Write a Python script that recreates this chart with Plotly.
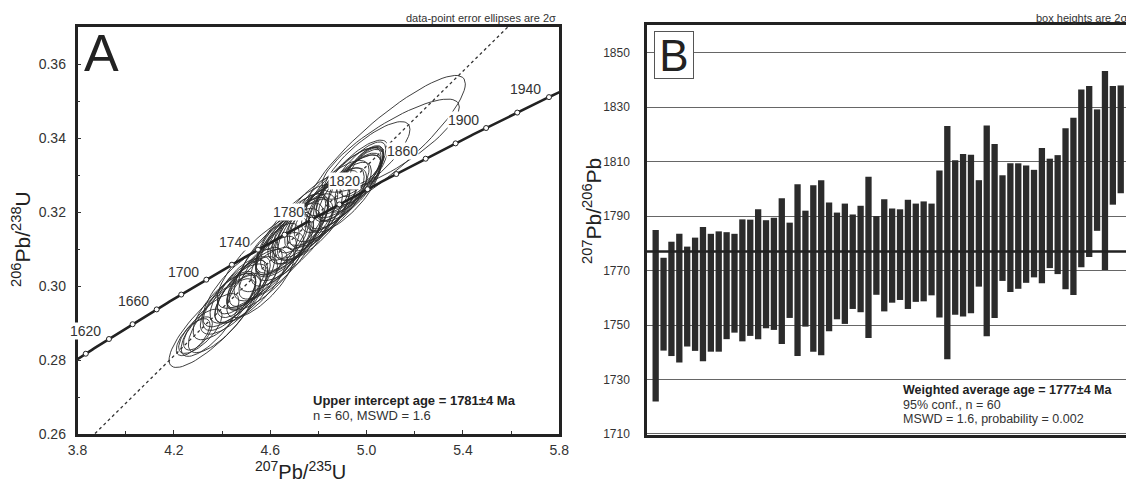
import numpy as np
import plotly.graph_objects as go

# ---------------- Panel A : concordia data (2-sigma error ellipses) ----------------
ell_x = [4.37, 4.28, 4.31, 4.35, 4.30, 4.40,
         4.45, 4.47, 4.50, 4.48, 4.52, 4.46, 4.49, 4.43, 4.56, 4.51, 4.41, 4.58, 4.54, 4.47, 4.59, 4.58,
         4.62, 4.65, 4.68, 4.66, 4.70, 4.63, 4.72, 4.69, 4.74, 4.71, 4.76, 4.67, 4.78, 4.73, 4.63, 4.80, 4.77, 4.75,
         4.82, 4.85, 4.87, 4.84, 4.89, 4.91, 4.88, 4.93, 4.90, 4.95, 4.92, 4.97, 4.96, 4.98, 4.99, 4.94, 5.00,
         5.00, 5.10, 5.08]
ell_y = [0.2905, 0.2862, 0.2878, 0.2895, 0.2872, 0.2920,
         0.2965, 0.2985, 0.2990, 0.3000, 0.3000, 0.2975, 0.2985, 0.2960, 0.3010, 0.3010, 0.2945, 0.3040, 0.3025, 0.2995, 0.3050, 0.3070,
         0.3090, 0.3095, 0.3125, 0.3120, 0.3125, 0.3100, 0.3150, 0.3140, 0.3155, 0.3155, 0.3170, 0.3130, 0.3175, 0.3170, 0.3085, 0.3190, 0.3190, 0.3170,
         0.3205, 0.3220, 0.3235, 0.3225, 0.3245, 0.3250, 0.3245, 0.3265, 0.3260, 0.3280, 0.3275, 0.3295, 0.3300, 0.3310, 0.3320, 0.3290, 0.3325,
         0.3340, 0.3380, 0.3380]
ell_sx = [0.19, 0.07, 0.09, 0.12, 0.06, 0.14,
          0.14, 0.12, 0.13, 0.10, 0.15, 0.08, 0.07, 0.11, 0.14, 0.09, 0.13, 0.16, 0.11, 0.15, 0.12, 0.20,
          0.15, 0.13, 0.14, 0.10, 0.16, 0.09, 0.12, 0.15, 0.13, 0.17, 0.14, 0.08, 0.15, 0.10, 0.18, 0.13, 0.16, 0.09,
          0.14, 0.15, 0.12, 0.17, 0.13, 0.15, 0.09, 0.13, 0.17, 0.11, 0.14, 0.10, 0.12, 0.09, 0.08, 0.15, 0.07,
          0.18, 0.285, 0.33]
ell_sy = [0.0125, 0.0050, 0.0060, 0.0085, 0.0045, 0.0100,
          0.0095, 0.0085, 0.0090, 0.0075, 0.0100, 0.0060, 0.0050, 0.0080, 0.0095, 0.0070, 0.0090, 0.0105, 0.0080, 0.0105, 0.0085, 0.0130,
          0.0105, 0.0095, 0.0100, 0.0080, 0.0110, 0.0070, 0.0090, 0.0110, 0.0095, 0.0120, 0.0100, 0.0060, 0.0105, 0.0080, 0.0125, 0.0095, 0.0115, 0.0070,
          0.0100, 0.0100, 0.0085, 0.0115, 0.0090, 0.0105, 0.0068, 0.0090, 0.0115, 0.0080, 0.0100, 0.0075, 0.0090, 0.0068, 0.0060, 0.0105, 0.0050,
          0.0105, 0.0126, 0.0190]
ell_rho = [0.84, 0.68, 0.72, 0.76, 0.60, 0.77,
           0.74, 0.72, 0.74, 0.68, 0.76, 0.62, 0.60, 0.72, 0.75, 0.68, 0.74, 0.77, 0.72, 0.76, 0.73, 0.80,
           0.74, 0.72, 0.74, 0.68, 0.76, 0.66, 0.72, 0.76, 0.73, 0.77, 0.74, 0.62, 0.75, 0.68, 0.78, 0.73, 0.76, 0.66,
           0.75, 0.75, 0.72, 0.78, 0.74, 0.76, 0.66, 0.75, 0.79, 0.73, 0.77, 0.72, 0.78, 0.72, 0.68, 0.79, 0.62,
           0.80, 0.83, 0.88]

conc_marker_ages = [1600, 1620, 1640, 1660, 1680, 1700, 1720, 1740, 1760, 1780,
                    1800, 1820, 1840, 1860, 1880, 1900, 1920, 1940]
conc_label_ages = [1620, 1660, 1700, 1740, 1780, 1820, 1860, 1900, 1940]
upper_intercept_ma = 1781
lower_intercept_ma = 130

# ---------------- Panel B : 207Pb/206Pb ages (2-sigma boxes) ----------------
age_top = [1784.9, 1774.7, 1780.6, 1783.5, 1778.8, 1782.1, 1786.0, 1783.5, 1784.4, 1784.1,
           1783.5, 1788.8, 1788.7, 1792.5, 1788.5, 1789.4, 1796.6, 1787.6, 1801.7, 1792.0,
           1801.3, 1803.2, 1795.0, 1791.3, 1794.6, 1790.6, 1793.8, 1804.5, 1790.0, 1796.2,
           1792.8, 1792.5, 1796.0, 1794.6, 1795.4, 1794.6, 1806.8, 1823.1, 1810.5, 1812.8,
           1812.5, 1803.2, 1823.3, 1816.5, 1805.0, 1809.4, 1809.4, 1808.6, 1807.0, 1815.0,
           1811.1, 1812.4, 1822.3, 1826.1, 1836.5, 1837.8, 1829.2, 1843.3, 1837.8, 1838.0]
age_bottom = [1721.9, 1740.6, 1738.6, 1736.2, 1742.1, 1740.5, 1736.7, 1740.2, 1740.2, 1744.8,
              1747.2, 1744.0, 1746.0, 1744.8, 1748.8, 1748.2, 1743.0, 1752.6, 1738.6, 1749.4,
              1740.2, 1738.9, 1747.7, 1752.1, 1750.4, 1755.9, 1754.7, 1745.2, 1761.1, 1755.0,
              1758.2, 1759.2, 1755.9, 1758.5, 1758.7, 1760.9, 1752.8, 1737.4, 1753.8, 1753.1,
              1754.3, 1764.1, 1745.9, 1752.6, 1766.2, 1762.1, 1763.3, 1765.5, 1767.5, 1765.3,
              1770.9, 1768.7, 1763.1, 1761.0, 1771.2, 1775.0, 1784.6, 1770.2, 1794.2, 1798.4]
weighted_mean = 1777
b_ticks = [1710, 1730, 1750, 1770, 1790, 1810, 1830, 1850]

# ---------------- helpers ----------------
L238 = 1.55125e-10
L235 = 9.8485e-10


def concordia(t_ma):
    t = np.asarray(t_ma, dtype=float) * 1e6
    return np.exp(L235 * t) - 1, np.exp(L238 * t) - 1


# the page body has an 8px margin, so the figure is sized to fill the window
OFF = 8
W, H = 1134 - OFF, 485 - OFF


def px(x):  # window pixel -> paper fraction
    return (x - OFF) / W


def py(y):
    return 1 - (y - OFF) / H


FONT = "Liberation Sans, Arial, sans-serif"
DARK = "#222222"

fig = go.Figure()

# ellipses as one path trace
ex, ey = [], []
theta = np.linspace(0, 2 * np.pi, 73)
for cx, cy, sx, sy, r in zip(ell_x, ell_y, ell_sx, ell_sy, ell_rho):
    xs = cx + sx * np.cos(theta)
    ys = cy + sy * (r * np.cos(theta) + np.sqrt(1 - r * r) * np.sin(theta))
    ex += list(xs) + [None]
    ey += list(ys) + [None]
fig.add_trace(go.Scatter(x=ex, y=ey, mode="lines", line=dict(color="#2a2a2a", width=0.9),
                         xaxis="x", yaxis="y", hoverinfo="skip", showlegend=False))

# discordia (dotted)
ux, uy = concordia(upper_intercept_ma)
lx, ly = concordia(lower_intercept_ma)
slope = (uy - ly) / (ux - lx)
dx = np.array([3.5, 6.0])
dy = uy + slope * (dx - ux)
fig.add_trace(go.Scatter(x=dx, y=dy, mode="lines", line=dict(color="#333333", width=1.3, dash="dot"),
                         xaxis="x", yaxis="y", hoverinfo="skip", showlegend=False))

# concordia curve
tc = np.linspace(1550, 2000, 300)
cxs, cys = concordia(tc)
fig.add_trace(go.Scatter(x=cxs, y=cys, mode="lines", line=dict(color=DARK, width=2.6),
                         xaxis="x", yaxis="y", hoverinfo="skip", showlegend=False))
mx, my = concordia(conc_marker_ages)
fig.add_trace(go.Scatter(x=mx, y=my, mode="markers",
                         marker=dict(symbol="circle", size=5, color="white", line=dict(color=DARK, width=1)),
                         xaxis="x", yaxis="y", hoverinfo="skip", showlegend=False))

annotations = []
lxs, lys = concordia(conc_label_ages)
for a, xx, yy in zip(conc_label_ages, lxs, lys):
    annotations.append(dict(x=xx, y=yy, xref="x", yref="y", text=str(a), showarrow=False,
                            xanchor="center", yanchor="middle",
                            xshift=-23, yshift=8, bgcolor="white", borderpad=0,
                            font=dict(family=FONT, size=14, color="#333333")))

# ---------------- Panel B bars ----------------
idx = list(range(1, len(age_top) + 1))
fig.add_trace(go.Bar(x=idx, y=[t - b for t, b in zip(age_top, age_bottom)], base=age_bottom,
                     width=0.8, marker=dict(color="#2b2b2b", line=dict(width=0)),
                     xaxis="x2", yaxis="y2", hoverinfo="skip", showlegend=False))

shapes = [dict(type="line", xref="x2 domain", yref="y2", x0=0, x1=1, y0=weighted_mean, y1=weighted_mean,
               line=dict(color=DARK, width=2.6), layer="above")]


def note(x, y, text, size, color="#333333", xanchor="center", **kw):
    return dict(x=px(x), y=py(y), xref="paper", yref="paper", text=text, showarrow=False,
                xanchor=xanchor, yanchor="middle", font=dict(family=FONT, size=size, color=color), **kw)


# ---------------- texts ----------------
annotations += [
    note(101, 53, "A", 52, DARK),
    note(674, 55, "B", 44, DARK, bgcolor="white", bordercolor="#555555",
         borderwidth=1, width=36, height=44, borderpad=1),
    note(558, 18, "data-point error ellipses are 2σ", 11, xanchor="right"),
    note(1129, 18, "box heights are 2σ", 11, xanchor="right"),
    note(311, 400, "<b>Upper intercept age = 1781±4 Ma</b>", 13, DARK, xanchor="left"),
    note(311, 415, "n = 60, MSWD = 1.6", 13, xanchor="left"),
    note(901, 390, "<b>Weighted average age = 1777±4 Ma</b>", 12.5, DARK, xanchor="left"),
    note(901, 405, "95% conf., n = 60", 12.5, xanchor="left"),
    note(901, 419, "MSWD = 1.6, probability = 0.002", 12.5, xanchor="left"),
    note(300, 470, "<sup>207</sup>Pb/<sup>235</sup>U", 20, DARK),
    note(21, 239, "<sup>206</sup>Pb/<sup>238</sup>U", 21, DARK, textangle=-90),
    note(592, 211, "<sup>207</sup>Pb/<sup>206</sup>Pb", 21, DARK, textangle=-90),
]

axis_common = dict(showline=True, mirror=True, linecolor=DARK, linewidth=2.5, zeroline=False,
                   automargin=False, tickfont=dict(family=FONT, size=14, color="#333333"))

fig.update_layout(
    template="none",
    width=W, height=H, margin=dict(l=0, r=0, t=0, b=0, pad=0, autoexpand=False),
    paper_bgcolor="white", plot_bgcolor="white", showlegend=False, barmode="overlay",
    xaxis=dict(domain=[px(77.5), px(559.3)], range=[3.8, 5.8], anchor="y",
               tick0=3.8, dtick=0.4, tickformat=".1f", ticks="inside", ticklen=4, tickcolor="#333333",
               minor=dict(dtick=0.2, ticks="inside", ticklen=3, tickcolor="#333333", showgrid=False),
               showgrid=False, ticklabelstandoff=1, **axis_common),
    yaxis=dict(domain=[py(434), py(27)], range=[0.26, 0.3701], anchor="x",
               tick0=0.26, dtick=0.02, tickformat=".2f", ticks="inside", ticklen=4, tickcolor="#333333",
               minor=dict(dtick=0.01, ticks="inside", ticklen=3, tickcolor="#333333", showgrid=False),
               showgrid=False, ticklabelstandoff=6, **axis_common),
    xaxis2=dict(domain=[px(647), px(1129)], range=[-0.1, 61.05], anchor="y2",
                showticklabels=False, ticks="", showgrid=False, **axis_common),
    yaxis2=dict(domain=[py(435), py(25)], range=[1709.6, 1860.2], anchor="x2",
                tickvals=b_ticks, ticks="", showgrid=True, gridcolor="#666666", gridwidth=1.2,
                ticklabelstandoff=12,
                **{**axis_common, "tickfont": dict(family=FONT, size=12, color="#333333")}),
    annotations=annotations, shapes=shapes,
)

fig.write_html("out.html")
